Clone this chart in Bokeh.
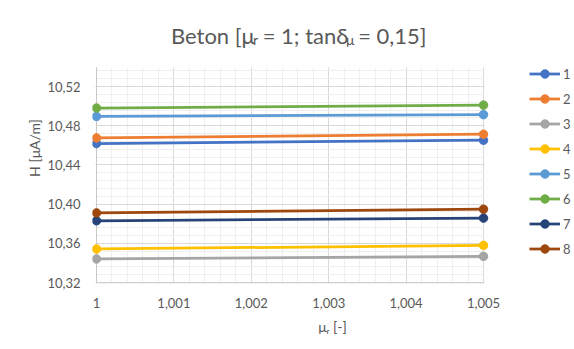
import numpy as np
from bokeh.plotting import figure
from bokeh.models import Range1d, FixedTicker, Legend, LegendItem, Label, BoxAnnotation
from bokeh.embed import file_html
from bokeh.resources import INLINE

# ---------------- data ----------------
mu_r = [1.0, 1.005]
h_1 = [10.4618, 10.4652]
h_2 = [10.4675, 10.4713]
h_3 = [10.3440, 10.3467]
h_4 = [10.3542, 10.3579]
h_5 = [10.4895, 10.4913]
h_6 = [10.4980, 10.5010]
h_7 = [10.3830, 10.3857]
h_8 = [10.3910, 10.3948]
series_names = ["1", "2", "3", "4", "5", "6", "7", "8"]
series_values = [h_1, h_2, h_3, h_4, h_5, h_6, h_7, h_8]
colors = ["#4472C4", "#ED7D31", "#A5A5A5", "#FFC000",
          "#5B9BD5", "#70AD47", "#264478", "#9E480E"]

x_ticks = [1.0, 1.001, 1.002, 1.003, 1.004, 1.005]
x_labels = ["1", "1,001", "1,002", "1,003", "1,004", "1,005"]
y_ticks = [10.32, 10.36, 10.40, 10.44, 10.48, 10.52]
y_labels = ["10,32", "10,36", "10,40", "10,44", "10,48", "10,52"]
y_top = 10.5394  # top edge of the plot area

FONT = "Lato"
TXT = "#595959"
GRID = "#d9d9d9"
AXIS = "#c8c8c8"

# pixel sizes in data units (plot area 387 px wide for 0.005, 196 px tall for 0.2)
PX = 0.005 / 387
PY = 0.2 / 196

# approximate Lato advance widths (em) used to chain subscript pieces
LATO_W = {" ": .193, "B": .628, "e": .537, "t": .356, "o": .571, "n": .571,
          "[": .295, "]": .295, "μ": .576, "=": .58, ";": .25, "a": .511,
          "δ": .55, ",": .23, "r": .388, "-": .36}


def tw(s, size):
    return sum(LATO_W.get(c, .58) for c in s) * size


# frame: page x 92..572, y 12..283 ; the data plot area is x 96..483, y 67..282
p = figure(width=574, height=349,
           x_range=Range1d(x_ticks[0] - 4 * PX, x_ticks[-1] + 89 * PX),
           y_range=Range1d(y_ticks[0] - 1 * PY, y_ticks[0] + 270 * PY),
           output_backend="svg", toolbar_location=None,
           min_border_left=92, min_border_right=2,
           min_border_top=12, min_border_bottom=66)
p.outline_line_color = None

p.xaxis.ticker = FixedTicker(ticks=x_ticks,
                             minor_ticks=list(np.round(np.arange(1.0, 1.00501, 0.0002), 5)))
p.yaxis.ticker = FixedTicker(ticks=y_ticks,
                             minor_ticks=list(np.round(np.arange(10.32, 10.54, 0.008), 4)))
p.xaxis.major_label_overrides = dict(zip(x_ticks, x_labels))
p.yaxis.major_label_overrides = dict(zip(y_ticks, y_labels))
for ax in (p.xaxis, p.yaxis):
    ax.major_tick_line_color = None
    ax.minor_tick_line_color = None
    ax.axis_line_color = None
    ax.major_label_text_font = FONT
    ax.major_label_text_font_size = "13px"
    ax.major_label_text_color = TXT
    ax.axis_label_text_font = FONT
    ax.axis_label_text_font_size = "14px"
    ax.axis_label_text_font_style = "normal"
    ax.axis_label_text_color = TXT
p.xaxis.major_label_standoff = 8
p.yaxis.major_label_standoff = 6
p.yaxis.axis_label = "H [μA/m]"
p.yaxis.axis_label_standoff = 1
p.xaxis.axis_label = "μᵣ [-]"
p.xaxis.axis_label_standoff = 7

for g in (p.xgrid, p.ygrid):
    g.grid_line_color = GRID
    g.minor_grid_line_color = "#efefef"

# white covers so the grid only fills the plot area
p.add_layout(BoxAnnotation(bottom=y_top, fill_color="white", fill_alpha=1, line_alpha=0, level="underlay"))
p.add_layout(BoxAnnotation(left=x_ticks[-1] + PX, fill_color="white", fill_alpha=1, line_alpha=0, level="underlay"))
p.add_layout(BoxAnnotation(right=x_ticks[0] - PX, fill_color="white", fill_alpha=1, line_alpha=0, level="underlay"))
# axis lines of the plot area
p.add_layout(BoxAnnotation(left=x_ticks[0] - 0.5 * PX, right=x_ticks[0] + 0.5 * PX,
                           bottom=y_ticks[0], top=y_top,
                           fill_color=AXIS, fill_alpha=1, line_alpha=0, level="underlay"))
p.add_layout(BoxAnnotation(left=x_ticks[0], right=x_ticks[-1],
                           bottom=y_ticks[0] - PY, top=y_ticks[0],
                           fill_color=AXIS, fill_alpha=1, line_alpha=0, level="underlay"))

items = []
for name, vals, col in zip(series_names, series_values, colors):
    ln = p.line(mu_r, vals, line_color=col, line_width=2.75)
    sc = p.scatter(mu_r, vals, size=8.5, fill_color=col, line_color=col)
    items.append(LegendItem(label=name, renderers=[ln, sc]))

legend = Legend(items=items, location=(437, 24), orientation="vertical",
                glyph_width=31, glyph_height=21, label_height=21, spacing=4,
                padding=0, margin=0, border_line_color=None,
                background_fill_alpha=0, label_text_font=FONT,
                label_text_font_size="13px", label_text_color=TXT,
                label_standoff=3, label_text_baseline="middle")
p.add_layout(legend)


def lab(x, y, text, size, align="left"):
    p.add_layout(Label(x=x, y=y, x_units="screen", y_units="screen", text=text,
                       text_font=FONT, text_font_size=f"{size}px", text_color=TXT,
                       text_align=align, text_baseline="alphabetic"))


# title: Beton [μr = 1; tanδμ = 0,15]  (frame-relative screen units)
F, fs = 22, 14
gap = tw(" ", F)
pieces = [("Beton [μ", F, 0, 0), ("r", fs, -4, gap), ("= 1; tanδ", F, 0, 0),
          ("μ", fs, -4, gap), ("= 0,15]", F, 0, 0)]
total = sum(tw(s, sz) + g for s, sz, _, g in pieces)
x0 = 205.5 - total / 2
for s, sz, dy, g in pieces:
    lab(x0, 248 + dy, s, sz)
    x0 += tw(s, sz) + g

open("out.html", "w").write(file_html(p, INLINE))
